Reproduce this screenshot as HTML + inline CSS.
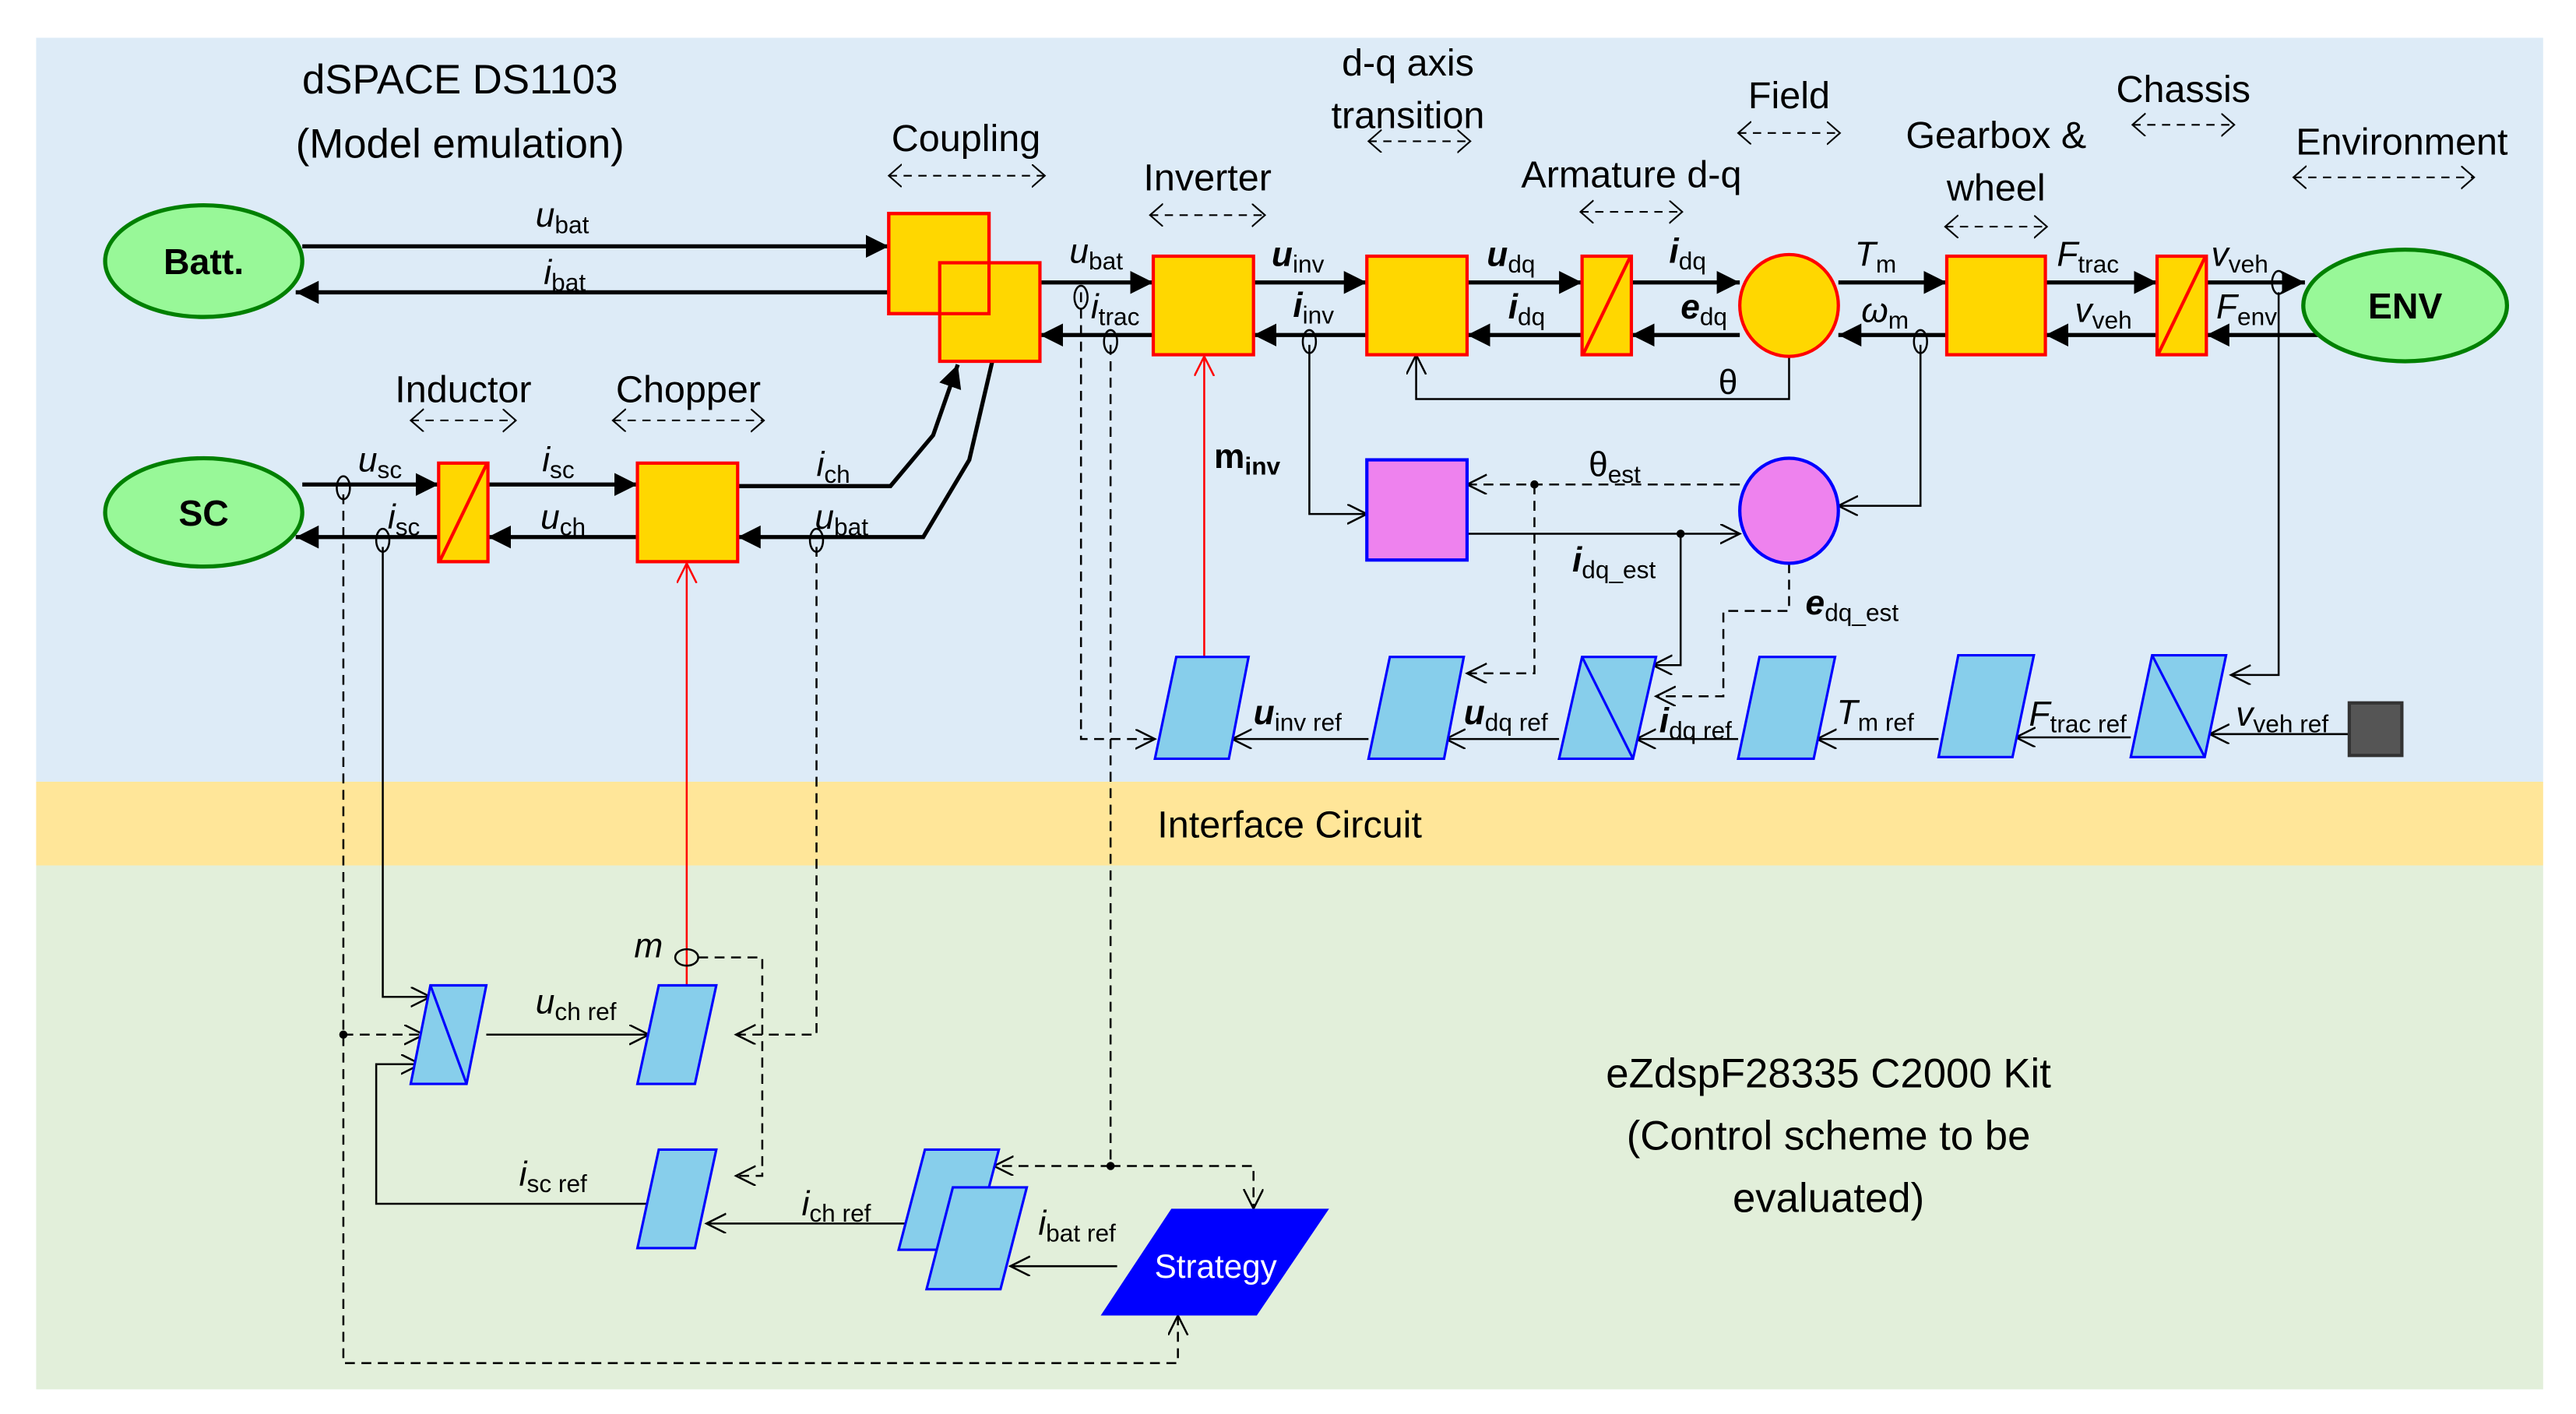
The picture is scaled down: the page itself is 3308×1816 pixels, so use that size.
<!DOCTYPE html>
<html><head><meta charset="utf-8"><style>
html,body{margin:0;padding:0;background:#fff}
svg{display:block}
text{font-family:"Liberation Sans",sans-serif;fill:#000}
.t{font-size:23px;text-anchor:middle}
.T{font-size:25px;text-anchor:middle}
.s{font-size:21px}
.s tspan.b{font-size:15px}
</style></head><body>
<svg width="3308" height="1816" viewBox="0 0 1568 861" preserveAspectRatio="none" xmlns="http://www.w3.org/2000/svg">
<defs>
<marker id="fa" markerUnits="userSpaceOnUse" markerWidth="16" markerHeight="16" refX="14" refY="7" orient="auto"><path d="M0,0 L14,7 L0,14 z" fill="#000"/></marker>
<marker id="oa" markerUnits="userSpaceOnUse" markerWidth="14" markerHeight="14" refX="12" refY="6" orient="auto"><path d="M0,0 L12,6 L0,12" fill="none" stroke="#000" stroke-width="1.2"/></marker>
<marker id="ra" markerUnits="userSpaceOnUse" markerWidth="14" markerHeight="14" refX="12" refY="6" orient="auto"><path d="M0,0 L12,6 L0,12" fill="none" stroke="#f00" stroke-width="1.2"/></marker>
<marker id="sa" markerUnits="userSpaceOnUse" markerWidth="14" markerHeight="16" refX="8" refY="7" orient="auto-start-reverse"><path d="M0,0 L8,7 L0,14" fill="none" stroke="#000" stroke-width="1"/></marker>
</defs>
<rect x="22" y="23" width="1526" height="453" fill="#ddebf7"/>
<rect x="22" y="476" width="1526" height="51" fill="#ffe699"/>
<rect x="22" y="527" width="1526" height="319" fill="#e2efda"/>

<text class="T" x="280" y="57">dSPACE DS1103</text>
<text class="T" x="280" y="96">(Model emulation)</text>
<g class="t">
<text x="588" y="92">Coupling</text>
<text x="735" y="116">Inverter</text>
<text x="857" y="46">d-q axis</text>
<text x="857" y="78">transition</text>
<text x="1089" y="66">Field</text>
<text x="993" y="114">Armature d-q</text>
<text x="1215" y="90">Gearbox &amp;</text>
<text x="1215" y="122">wheel</text>
<text x="1329" y="62">Chassis</text>
<text x="1462" y="94">Environment</text>
<text x="282" y="245">Inductor</text>
<text x="419" y="245">Chopper</text>
<text x="785" y="510">Interface Circuit</text>
</g>
<text class="T" x="1113" y="662">eZdspF28335 C2000 Kit</text>
<text class="T" x="1113" y="700">(Control scheme to be</text>
<text class="T" x="1113" y="738">evaluated)</text>
<g stroke="#000" stroke-width="1" stroke-dasharray="5 4" fill="none">
<line x1="541" y1="107" x2="636" y2="107" marker-start="url(#sa)" marker-end="url(#sa)"/>
<line x1="700" y1="131" x2="770" y2="131" marker-start="url(#sa)" marker-end="url(#sa)"/>
<line x1="833" y1="86" x2="895" y2="86" marker-start="url(#sa)" marker-end="url(#sa)"/>
<line x1="1058" y1="81" x2="1120" y2="81" marker-start="url(#sa)" marker-end="url(#sa)"/>
<line x1="962" y1="129" x2="1024" y2="129" marker-start="url(#sa)" marker-end="url(#sa)"/>
<line x1="1184" y1="138" x2="1246" y2="138" marker-start="url(#sa)" marker-end="url(#sa)"/>
<line x1="1298" y1="76" x2="1360" y2="76" marker-start="url(#sa)" marker-end="url(#sa)"/>
<line x1="1396" y1="108" x2="1506" y2="108" marker-start="url(#sa)" marker-end="url(#sa)"/>
<line x1="250" y1="256" x2="314" y2="256" marker-start="url(#sa)" marker-end="url(#sa)"/>
<line x1="373" y1="256" x2="465" y2="256" marker-start="url(#sa)" marker-end="url(#sa)"/>
</g>

<g stroke="#000" stroke-width="2.5" fill="none" marker-end="url(#fa)">
<line x1="184" y1="150" x2="541" y2="150"/>
<line x1="541" y1="178" x2="180" y2="178"/>
<line x1="633" y1="172" x2="702" y2="172"/>
<line x1="702" y1="204" x2="633" y2="204"/>
<line x1="763" y1="172" x2="832" y2="172"/>
<line x1="832" y1="204" x2="763" y2="204"/>
<line x1="893" y1="172" x2="963" y2="172"/>
<line x1="963" y1="204" x2="893" y2="204"/>
<line x1="993" y1="172" x2="1059" y2="172"/>
<line x1="1059" y1="204" x2="993" y2="204"/>
<line x1="1119" y1="172" x2="1185" y2="172"/>
<line x1="1185" y1="204" x2="1119" y2="204"/>
<line x1="1245" y1="172" x2="1313" y2="172"/>
<line x1="1313" y1="204" x2="1245" y2="204"/>
<line x1="1343" y1="172" x2="1403" y2="172"/>
<line x1="1412" y1="204" x2="1343" y2="204"/>
<line x1="184" y1="295" x2="267" y2="295"/>
<line x1="267" y1="327" x2="180" y2="327"/>
<line x1="297" y1="295" x2="388" y2="295"/>
<line x1="388" y1="327" x2="297" y2="327"/>
<polyline points="449,296 542,296 568,265 583,222"/>
<polyline points="604,220 590,280 562,327 449,327"/>
</g>

<g stroke="#000" stroke-width="1.2" fill="none" marker-end="url(#oa)">
<polyline points="1089,217 1089,243 862,243 862,216"/>
<polyline points="1169,210 1169,308 1119,308"/>
<polyline points="797,210 797,313 832,313"/>
<line x1="893" y1="325" x2="1059" y2="325"/>
<polyline points="1023,325 1023,405 1006,405"/>
<polyline points="1387,178 1387,411 1358,411"/>
<line x1="1430" y1="447" x2="1345" y2="447"/>
<line x1="1297" y1="449" x2="1227" y2="449"/>
<line x1="1180" y1="450" x2="1106" y2="450"/>
<line x1="1058" y1="450" x2="996" y2="450"/>
<line x1="949" y1="450" x2="880" y2="450"/>
<line x1="833" y1="450" x2="750" y2="450"/>
<polyline points="233,333 233,607 262,607"/>
<line x1="296" y1="630" x2="395" y2="630"/>
<polyline points="395,733 229,733 229,648 256,648"/>
<line x1="555" y1="745" x2="430" y2="745"/>
<line x1="680" y1="771" x2="615" y2="771"/>
</g>
<g stroke="#000" stroke-width="1.2" fill="none" stroke-dasharray="6 4" marker-end="url(#oa)">
<line x1="1059" y1="295" x2="893" y2="295"/>
<polyline points="934,295 934,410 893,410"/>
<polyline points="1089,343 1089,372 1049,372 1049,424 1008,424"/>
<polyline points="658,178 658,450 703,450"/>
<polyline points="209,301 209,830 717,830 717,801"/>
<polyline points="497,333 497,630 448,630"/>
<line x1="209" y1="630" x2="258" y2="630"/>
<polyline points="425,583 464,583 464,716 448,716"/>
<line x1="676" y1="710" x2="605" y2="710"/>
<polyline points="676,710 763,710 763,736"/>
</g>
<polyline points="676,210 676,710" stroke="#000" stroke-width="1.2" fill="none" stroke-dasharray="6 4"/>
<g fill="#000"><circle cx="934" cy="295" r="2.5"/><circle cx="1023" cy="325" r="2.5"/><circle cx="209" cy="630" r="2.5"/><circle cx="676" cy="710" r="2.5"/></g>

<g stroke="#f00" stroke-width="1.2" fill="none" marker-end="url(#ra)">
<line x1="733" y1="400" x2="733" y2="217"/>
<line x1="418" y1="600" x2="418" y2="343"/>
</g>

<g fill="none" stroke="#000" stroke-width="1.2">
<ellipse cx="658" cy="181" rx="4" ry="7"/>
<ellipse cx="676" cy="208" rx="4" ry="7"/>
<ellipse cx="797" cy="208" rx="4" ry="7"/>
<ellipse cx="1169" cy="208" rx="4" ry="7"/>
<ellipse cx="1387" cy="172" rx="4" ry="7"/>
<ellipse cx="209" cy="297" rx="4" ry="7"/>
<ellipse cx="233" cy="329" rx="4" ry="7"/>
<ellipse cx="497" cy="329" rx="4" ry="7"/>
<ellipse cx="418" cy="583" rx="7" ry="5"/>
</g>

<g fill="#98f898" stroke="#008000" stroke-width="2.5">
<ellipse cx="124" cy="159" rx="60" ry="34"/>
<ellipse cx="124" cy="312" rx="60" ry="33"/>
<ellipse cx="1464" cy="186" rx="62" ry="34"/>
</g>
<g font-weight="bold" font-size="22" text-anchor="middle">
<text x="124" y="167">Batt.</text><text x="124" y="320">SC</text><text x="1464" y="194">ENV</text>
</g>

<g fill="#ffd700" stroke="#f00" stroke-width="2">
<rect x="541" y="130" width="61" height="61"/>
<rect x="572" y="160" width="61" height="60"/>
<rect x="702" y="156" width="61" height="60"/>
<rect x="832" y="156" width="61" height="60"/>
<rect x="963" y="156" width="30" height="60"/>
<ellipse cx="1089" cy="186" rx="30" ry="31"/>
<rect x="1185" y="156" width="60" height="60"/>
<rect x="1313" y="156" width="30" height="60"/>
<rect x="267" y="282" width="30" height="60"/>
<rect x="388" y="282" width="61" height="60"/>
</g>
<rect x="541" y="130" width="61" height="61" fill="none" stroke="#f00" stroke-width="2"/>
<g stroke="#f00" stroke-width="2"><line x1="964" y1="215" x2="992" y2="157"/><line x1="1314" y1="215" x2="1342" y2="157"/><line x1="268" y1="341" x2="296" y2="283"/></g>

<rect x="832" y="280" width="61" height="61" fill="#ee82ee" stroke="#00f" stroke-width="2"/>
<ellipse cx="1089" cy="311" rx="30" ry="32" fill="#ee82ee" stroke="#00f" stroke-width="2"/>

<g fill="#87ceeb" stroke="#00f" stroke-width="1.5">
<polygon points="716,400 760,400 748,462 703,462"/>
<polygon points="846,400 891,400 879,462 833,462"/>
<polygon points="963,400 1008,400 994,462 949,462"/>
<polygon points="1071,400 1117,400 1104,462 1058,462"/>
<polygon points="1192,399 1238,399 1225,461 1180,461"/>
<polygon points="1310,399 1355,399 1342,461 1297,461"/>
<polygon points="262,600 296,600 284,660 250,660"/>
<polygon points="401,600 436,600 423,660 388,660"/>
<polygon points="401,700 436,700 423,760 388,760"/>
<polygon points="563,700 608,700 592,761 547,761"/>
<polygon points="580,723 625,723 609,785 564,785"/>
</g>
<g stroke="#00f" stroke-width="1.5"><line x1="963" y1="400" x2="994" y2="462"/><line x1="1310" y1="399" x2="1342" y2="461"/><line x1="262" y1="600" x2="284" y2="660"/></g>
<rect x="1430" y="428" width="32" height="32" fill="#555" stroke="#333" stroke-width="2"/>
<polygon points="713,736 809,736 765,801 670,801" fill="#00f"/>
<text x="740" y="778" font-size="20" text-anchor="middle" style="fill:#fff">Strategy</text>

<g class="s">
<text x="326" y="138"><tspan font-style="italic">u</tspan><tspan class="b" dy="4">bat</tspan></text>
<text x="331" y="173"><tspan font-style="italic">i</tspan><tspan class="b" dy="4">bat</tspan></text>
<text x="651" y="160"><tspan font-style="italic">u</tspan><tspan class="b" dy="4">bat</tspan></text>
<text x="664" y="194"><tspan font-style="italic">i</tspan><tspan class="b" dy="4">trac</tspan></text>
<text x="774" y="162" font-weight="bold"><tspan font-style="italic">u</tspan><tspan class="b" dy="4" font-weight="normal">inv</tspan></text>
<text x="787" y="193" font-weight="bold"><tspan font-style="italic">i</tspan><tspan class="b" dy="4" font-weight="normal">inv</tspan></text>
<text x="905" y="162" font-weight="bold"><tspan font-style="italic">u</tspan><tspan class="b" dy="4" font-weight="normal">dq</tspan></text>
<text x="918" y="194" font-weight="bold"><tspan font-style="italic">i</tspan><tspan class="b" dy="4" font-weight="normal">dq</tspan></text>
<text x="1016" y="160" font-weight="bold"><tspan font-style="italic">i</tspan><tspan class="b" dy="4" font-weight="normal">dq</tspan></text>
<text x="1023" y="194" font-weight="bold"><tspan font-style="italic">e</tspan><tspan class="b" dy="4" font-weight="normal">dq</tspan></text>
<text x="1129" y="162"><tspan font-style="italic">T</tspan><tspan class="b" dy="4">m</tspan></text>
<text x="1133" y="196"><tspan font-style="italic">ω</tspan><tspan class="b" dy="4">m</tspan></text>
<text x="1046" y="240">θ</text>
<text x="1252" y="162"><tspan font-style="italic">F</tspan><tspan class="b" dy="4">trac</tspan></text>
<text x="1263" y="196"><tspan font-style="italic">v</tspan><tspan class="b" dy="4">veh</tspan></text>
<text x="1346" y="162"><tspan font-style="italic">v</tspan><tspan class="b" dy="4">veh</tspan></text>
<text x="1349" y="194"><tspan font-style="italic">F</tspan><tspan class="b" dy="4">env</tspan></text>
<text x="967" y="290">θ<tspan class="b" dy="4">est</tspan></text>
<text x="957" y="348" font-weight="bold"><tspan font-style="italic">i</tspan><tspan class="b" dy="4" font-weight="normal">dq_est</tspan></text>
<text x="1099" y="374" font-weight="bold"><tspan font-style="italic">e</tspan><tspan class="b" dy="4" font-weight="normal">dq_est</tspan></text>
<text x="739" y="285" font-weight="bold">m<tspan class="b" dy="4">inv</tspan></text>
<text x="763" y="441" font-weight="bold"><tspan font-style="italic">u</tspan><tspan class="b" dy="4" font-weight="normal">inv ref</tspan></text>
<text x="891" y="441" font-weight="bold"><tspan font-style="italic">u</tspan><tspan class="b" dy="4" font-weight="normal">dq ref</tspan></text>
<text x="1010" y="446" font-weight="bold"><tspan font-style="italic">i</tspan><tspan class="b" dy="4" font-weight="normal">dq ref</tspan></text>
<text x="1118" y="441"><tspan font-style="italic">T</tspan><tspan class="b" dy="4">m ref</tspan></text>
<text x="1235" y="442"><tspan font-style="italic">F</tspan><tspan class="b" dy="4">trac ref</tspan></text>
<text x="1361" y="442"><tspan font-style="italic">v</tspan><tspan class="b" dy="4">veh ref</tspan></text>
<text x="218" y="287"><tspan font-style="italic">u</tspan><tspan class="b" dy="4">sc</tspan></text>
<text x="236" y="322"><tspan font-style="italic">i</tspan><tspan class="b" dy="4">sc</tspan></text>
<text x="330" y="287"><tspan font-style="italic">i</tspan><tspan class="b" dy="4">sc</tspan></text>
<text x="329" y="322"><tspan font-style="italic">u</tspan><tspan class="b" dy="4">ch</tspan></text>
<text x="497" y="290"><tspan font-style="italic">i</tspan><tspan class="b" dy="4">ch</tspan></text>
<text x="496" y="322"><tspan font-style="italic">u</tspan><tspan class="b" dy="4">bat</tspan></text>
<text x="386" y="583" font-style="italic">m</text>
<text x="326" y="617"><tspan font-style="italic">u</tspan><tspan class="b" dy="4">ch ref</tspan></text>
<text x="316" y="722"><tspan font-style="italic">i</tspan><tspan class="b" dy="4">sc ref</tspan></text>
<text x="488" y="740"><tspan font-style="italic">i</tspan><tspan class="b" dy="4">ch ref</tspan></text>
<text x="632" y="752"><tspan font-style="italic">i</tspan><tspan class="b" dy="4">bat ref</tspan></text>
</g>
</svg>
</body></html>
